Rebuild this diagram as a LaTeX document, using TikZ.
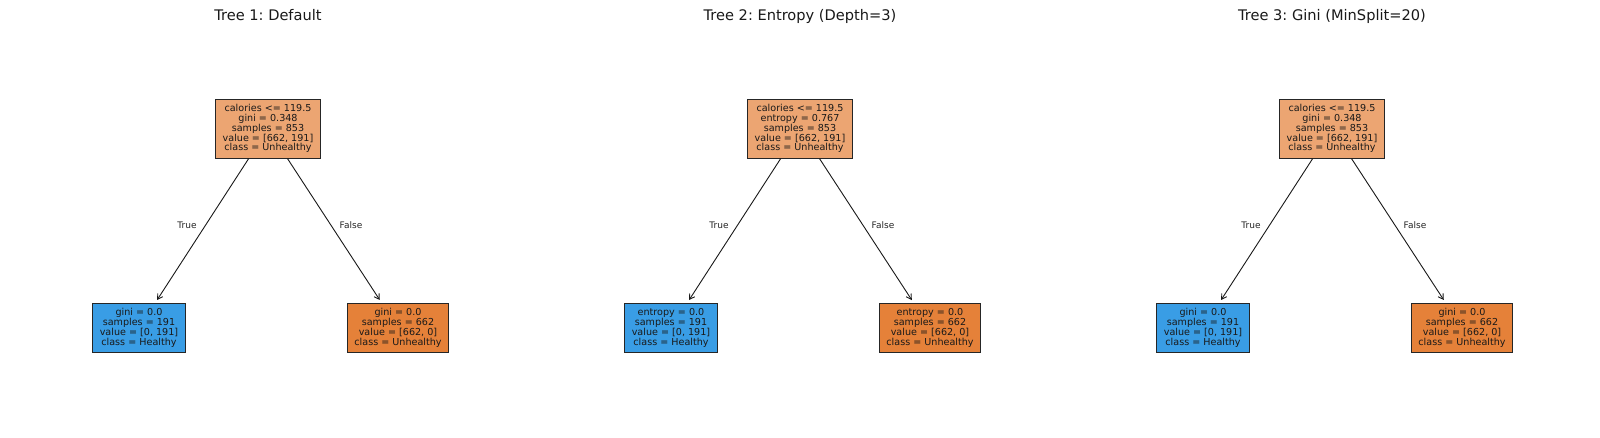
\documentclass[tikz,border=0pt]{standalone}
\usepackage{fontspec}
\setmainfont{DejaVu Sans}
\usetikzlibrary{arrows.meta}
\frenchspacing
\definecolor{rootc}{HTML}{ECA572}
\definecolor{orc}{HTML}{E58139}
\definecolor{blc}{HTML}{399DE5}
\tikzset{
 treenode/.style={draw=black!85, line width=0.9pt, align=center, inner xsep=7pt, inner ysep=5.3pt, font=\fontsize{9.6}{9.8}\selectfont, text=black!90},
 edgearrow/.style={draw=black!90, line width=0.9pt, -{Straight Barb[length=5pt,width=6pt]}, shorten >=3.5pt},
 edgelabel/.style={font=\fontsize{9}{10}\selectfont, text=black!85},
 treetitle/.style={font=\fontsize{14.6}{17}\selectfont, anchor=base, text=black!90},
}
\newcommand\mytree[5]{%
 \node[treetitle] (h#1) at (#2,20.7) {#5};
 \node[treenode, fill=rootc] (r#1) at (#2,128.7) {calories <= 119.5\\#3 = #4\\samples = 853\\value = [662, 191]\\class = Unhealthy};
 \node[treenode, fill=blc] (a#1) at ({#2-129},328) {#3 = 0.0\\samples = 191\\value = [0, 191]\\class = Healthy};
 \node[treenode, fill=orc] (b#1) at ({#2+130},328) {#3 = 0.0\\samples = 662\\value = [662, 0]\\class = Unhealthy};
 \draw[edgearrow] (r#1) -- (a#1);
 \draw[edgearrow] (r#1) -- (b#1);
 \node[edgelabel] (t#1) at ({#2-81},225) {True};
 \node[edgelabel] (f#1) at ({#2+83},225) {False};
}
\begin{document}
\begin{tikzpicture}[x=1pt,y=-1pt]
 \useasboundingbox[fill=white] (0,0) rectangle (1600,437);
 \mytree{1}{268}{gini}{0.348}{Tree 1: Default}
 \mytree{2}{800}{entropy}{0.767}{Tree 2: Entropy (Depth=3)}
 \mytree{3}{1332}{gini}{0.348}{Tree 3: Gini (MinSplit=20)}
\end{tikzpicture}
\end{document}
